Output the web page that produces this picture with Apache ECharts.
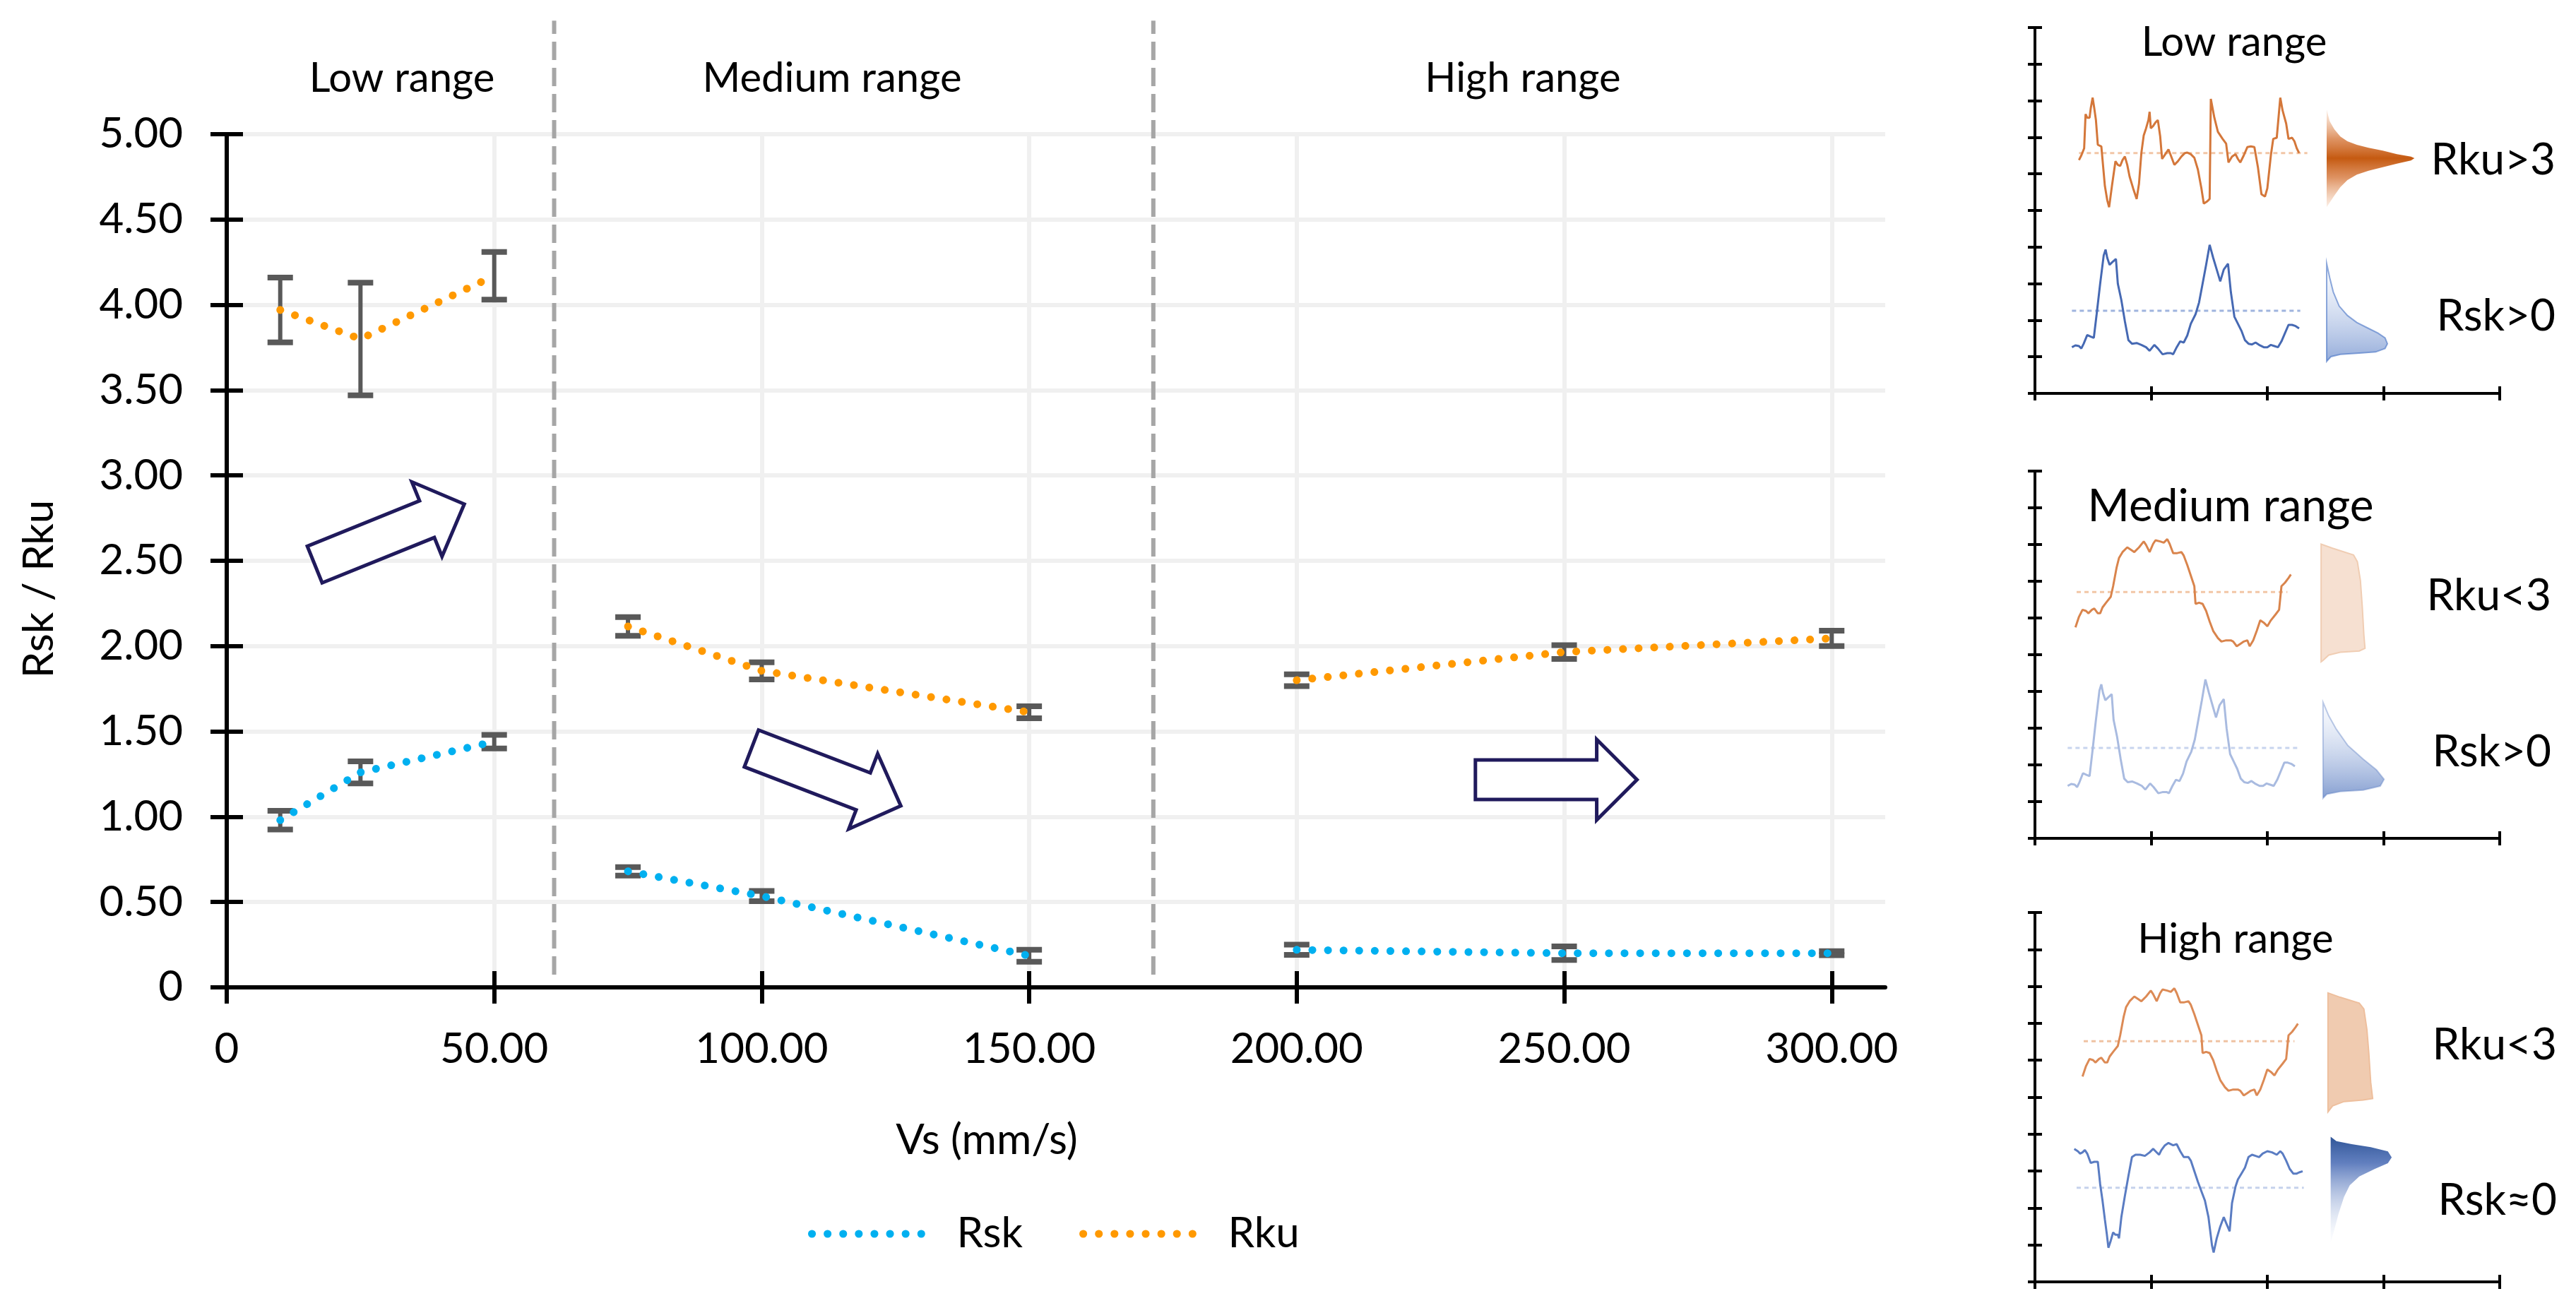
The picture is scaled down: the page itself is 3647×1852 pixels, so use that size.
<!DOCTYPE html>
<html><head><meta charset="utf-8">
<script src="https://cdn.jsdelivr.net/npm/echarts@6/dist/echarts.min.js"></script>
<style>html,body{margin:0;padding:0;background:#fff}#c{width:3647px;height:1852px}</style>
</head><body><div id="c"></div>
<script>
const FONT = 'Lato';
// ---------------- main chart data ----------------
const categories = ['Low range', 'Medium range', 'High range'];
const vs = [10, 25, 50, 75, 100, 150, 200, 250, 300];
const rangeOf = [0, 0, 0, 1, 1, 1, 2, 2, 2];
const rsk = [0.98, 1.26, 1.44, 0.68, 0.535, 0.185, 0.22, 0.20, 0.20];
const rskErr = [0.055, 0.065, 0.04, 0.025, 0.03, 0.035, 0.03, 0.04, 0.012];
const rku = [3.97, 3.80, 4.17, 2.115, 1.855, 1.612, 1.80, 1.965, 2.045];
const rkuErr = [0.19, 0.33, 0.14, 0.055, 0.05, 0.035, 0.035, 0.04, 0.045];
const xTicks = [0, 50, 100, 150, 200, 250, 300];
const rangeBounds = [61.2, 173.2];
const trendArrows = [[16.45, 2.478, 44.4, 2.832], [98.08, 1.40, 126.0, 1.064], [233.4, 1.217, 263.6, 1.217]];

// ---------------- inset sketches (read in sample units of each sketch) ----------------
const lowRkuProfile = [[40,320],[50,300],[62,270],[68,125],[75,140],[85,140],[90,100],[98,55],[105,100],[112,150],[120,255],[135,262],[150,430],[160,490],[168,520],[180,430],[195,325],[205,340],[215,345],[225,320],[235,305],[245,340],[255,390],[270,440],[285,485],[295,420],[305,290],[315,215],[325,185],[335,150],[340,115],[345,185],[355,175],[365,160],[375,150],[385,220],[393,315],[400,305],[410,290],[420,275],[430,300],[445,340],[460,325],[475,305],[490,290],[500,288],[515,295],[530,310],[545,360],[560,440],[570,505],[585,495],[595,485],[600,60],[615,140],[630,200],[650,230],[665,250],[675,330],[690,305],[705,295],[715,315],[725,330],[740,300],[755,265],[770,262],[785,265],[800,350],[815,465],[830,475],[840,440],[855,300],[865,230],[880,225],[895,55],[905,110],[920,165],[930,230],[945,225],[955,240],[965,270],[975,290]];
const peakRskProfile = [[25,470],[40,462],[55,465],[65,475],[75,455],[90,418],[105,425],[118,430],[130,330],[145,200],[160,80],[168,55],[175,90],[185,120],[195,110],[212,95],[220,200],[235,270],[250,360],[265,440],[280,455],[300,452],[320,460],[340,470],[355,485],[375,460],[390,475],[410,500],[430,495],[445,495],[455,500],[470,470],[485,445],[500,450],[515,420],[530,370],[550,330],[565,280],[580,200],[595,120],[610,35],[625,90],[640,140],[655,190],[670,140],[688,115],[700,235],[715,340],[730,370],[745,400],[760,440],[775,455],[790,458],[805,450],[820,460],[840,470],[855,470],[870,460],[885,465],[900,470],[915,445],[930,410],[945,375],[960,375],[975,380],[990,390]];
const plateauRkuProfile = [[40,415],[55,370],[70,340],[85,345],[95,355],[110,340],[120,335],[135,355],[145,355],[155,330],[170,310],[190,285],[200,240],[215,160],[225,120],[240,95],[260,75],[275,85],[290,95],[310,75],[330,50],[340,65],[355,95],[370,60],[380,45],[400,50],[415,55],[430,40],[440,60],[455,100],[470,100],[490,95],[500,110],[515,150],[530,195],[545,240],[550,315],[565,310],[580,315],[595,345],[610,390],[625,430],[645,460],[660,475],[680,470],[700,470],[710,475],[725,495],[740,485],[755,475],[770,470],[780,495],[795,470],[810,430],[825,385],[840,395],[855,410],[870,385],[890,360],[905,340],[915,240],[930,225],[945,205],[955,190]];
const valleyRskProfile = [[20,80],[35,90],[45,100],[55,95],[65,85],[75,100],[90,140],[105,135],[120,135],[130,230],[140,300],[150,380],[158,440],[165,500],[175,470],[185,435],[195,445],[205,445],[210,460],[220,370],[235,280],[250,195],[265,115],[280,105],[300,105],[320,110],[340,95],[355,80],[365,90],[380,105],[390,85],[405,65],[420,55],[440,65],[455,60],[470,90],[485,115],[505,115],[515,130],[530,175],[545,220],[560,260],[575,300],[590,370],[605,490],[612,520],[625,460],[640,410],[655,370],[665,395],[680,430],[690,310],[705,240],[715,210],[730,185],[745,160],[760,115],[775,105],[790,110],[805,115],[820,100],[840,90],[860,95],[880,105],[895,90],[905,100],[920,130],[935,165],[950,185],[965,185],[975,180],[990,175]];
const lowRkuMean = [[40,290],[1010,290]];
const lowRskMean = [[25,315],[995,315]];
const medRkuMean = [[45,265],[940,265]];
const medRskMean = [[25,315],[1000,315]];
const highRkuMean = [[45,265],[940,265]];
const highRskMean = [[30,245],[995,245]];
const lowRkuDist = [[42,45],[55,95],[75,130],[100,160],[130,180],[170,195],[220,208],[280,220],[340,235],[400,245],[415,252],[400,262],[340,275],[280,290],[220,305],[170,322],[130,345],[100,375],[75,410],[55,440],[42,460]];
const lowRskDist = [[42,700],[55,760],[70,820],[95,880],[130,920],[170,950],[220,975],[260,995],[290,1015],[300,1040],[290,1060],[250,1075],[180,1080],[100,1085],[60,1095],[42,1115]];
const medRkuDist = [[900,315],[930,330],[985,355],[995,380],[1003,450],[1008,550],[1012,650],[1015,700],[1000,710],[950,715],[920,725],[905,745],[900,750]];
const medRskDist = [[905,900],[920,950],[940,1000],[970,1060],[1010,1110],[1045,1150],[1065,1185],[1055,1210],[1010,1225],[950,1230],[915,1240],[905,1255]];
const highRkuDist = [[918,495],[950,510],[1000,530],[1012,550],[1020,620],[1025,700],[1030,800],[1035,855],[1010,860],[960,865],[930,880],[918,900]];
const highRskDist = [[925,985],[940,1000],[980,1010],[1030,1020],[1075,1035],[1085,1055],[1075,1075],[1040,1095],[1000,1120],[975,1150],[960,1190],[945,1250],[935,1300],[925,1345]];

// ---------------- build ----------------
const chart = echarts.init(document.getElementById('c'), null, {renderer: 'canvas'});
const grids = [], xAxes = [], yAxes = [], series = [];
function addGrid(rect) { grids.push(Object.assign({containLabel: false, outerBoundsMode: 'none'}, rect)); return grids.length - 1; }
const fmt = v => v === 0 ? '0' : v.toFixed(2);
const blk = {color: '#000', width: 6};

// main grid
const g0 = addGrid({left: 321, top: 190, width: 2348, height: 1208});
xAxes.push({type: 'value', gridIndex: g0, min: 0, max: 310, interval: 50, position: 'bottom',
  axisLine: {show: true, onZero: false, lineStyle: blk},
  axisTick: {show: true, length: 23, lineStyle: blk, customValues: xTicks},
  axisLabel: {show: true, fontSize: 60, fontFamily: FONT, color: '#000', margin: 58, formatter: fmt, customValues: xTicks},
  splitLine: {show: true, showMinLine: false, showMaxLine: true, lineStyle: {color: '#f0f0f0', width: 6}}});
xAxes.push({type: 'value', gridIndex: g0, min: 0, max: 310, interval: 50, position: 'bottom',
  axisLine: {show: false}, axisTick: {show: true, inside: true, length: 23, lineStyle: blk, customValues: xTicks},
  axisLabel: {show: false}, splitLine: {show: false}});
yAxes.push({type: 'value', gridIndex: g0, min: 0, max: 5, interval: 0.5, position: 'left',
  axisLine: {show: true, onZero: false, lineStyle: blk},
  axisTick: {show: true, length: 23, lineStyle: blk},
  axisLabel: {show: true, fontSize: 60, fontFamily: FONT, color: '#000', margin: 62, formatter: fmt},
  splitLine: {show: true, lineStyle: {color: '#f0f0f0', width: 6}}});
yAxes.push({type: 'value', gridIndex: g0, min: 0, max: 5, interval: 0.5, position: 'left',
  axisLine: {show: false}, axisTick: {show: true, inside: true, length: 23, lineStyle: blk},
  axisLabel: {show: false}, splitLine: {show: false}});

function renderErr(params, api) {
  const x = api.value(0), v = api.value(1), e = api.value(2);
  const t = api.coord([x, v + e]), b = api.coord([x, v - e]);
  const hw = 18, c = '#595959';
  return {type: 'group', children: [
    {type: 'line', shape: {x1: t[0], y1: t[1], x2: b[0], y2: b[1]}, style: {stroke: c, lineWidth: 6}},
    {type: 'line', shape: {x1: t[0] - hw, y1: t[1], x2: t[0] + hw, y2: t[1]}, style: {stroke: c, lineWidth: 8}},
    {type: 'line', shape: {x1: b[0] - hw, y1: b[1], x2: b[0] + hw, y2: b[1]}, style: {stroke: c, lineWidth: 8}}
  ]};
}
[['Rsk', rsk, rskErr, '#00b0f0'], ['Rku', rku, rkuErr, '#ff9900']].forEach(([name, vals, errs, color]) => {
  series.push({type: 'custom', name: name + ' error', xAxisIndex: 0, yAxisIndex: 0, z: 3, silent: true,
    encode: {x: 0, y: 1}, data: vs.map((x, i) => [x, vals[i], errs[i]]), renderItem: renderErr});
  categories.forEach((c, r) => {
    const d = vs.map((x, i) => [x, vals[i]]).filter((_, i) => rangeOf[i] === r);
    series.push({type: 'line', name, xAxisIndex: 0, yAxisIndex: 0, data: d, symbol: 'none', z: 4, silent: true,
      lineStyle: {color, width: 11, type: [0.1, 22], cap: 'round'}, itemStyle: {color}});
  });
});
// range separators
series.push({type: 'custom', xAxisIndex: 0, yAxisIndex: 0, z: 2, silent: true, clip: false,
  data: rangeBounds.map(v => [v, 0]),
  renderItem: (params, api) => {
    const b = api.coord([api.value(0), 0.075]), t = api.coord([api.value(0), 5.665]);
    return {type: 'line', shape: {x1: b[0], y1: b[1], x2: t[0], y2: t[1]}, style: {stroke: '#a6a6a6', lineWidth: 6, lineDash: [26, 11]}};
  }});
// trend arrows
series.push({type: 'custom', xAxisIndex: 0, yAxisIndex: 0, z: 5, silent: true, clip: false,
  data: trendArrows,
  renderItem: (params, api) => {
    const t = api.coord([api.value(0), api.value(1)]), p = api.coord([api.value(2), api.value(3)]);
    const dx = p[0] - t[0], dy = p[1] - t[1], L = Math.hypot(dx, dy);
    const ux = dx / L, uy = dy / L, nx = -uy, ny = ux;
    const sw = 28, hw = 57, hl = 57;
    const bx = p[0] - ux * hl, by = p[1] - uy * hl;
    const pts = [[t[0] + nx * sw, t[1] + ny * sw], [bx + nx * sw, by + ny * sw], [bx + nx * hw, by + ny * hw], [p[0], p[1]],
      [bx - nx * hw, by - ny * hw], [bx - nx * sw, by - ny * sw], [t[0] - nx * sw, t[1] - ny * sw]];
    return {type: 'polygon', shape: {points: pts}, style: {fill: '#fff', stroke: '#201a5c', lineWidth: 5, lineJoin: 'miter'}};
  }});

// inset panels with axes
function panel(rect) {
  const g = addGrid(rect);
  const ax = {color: '#000', width: 4};
  [[xAxes, 4, 'bottom'], [yAxes, 10, 'left']].forEach(([arr, max, pos]) => {
    arr.push({type: 'value', gridIndex: g, min: 0, max, interval: 1, position: pos,
      axisLine: {show: true, onZero: false, lineStyle: ax}, axisTick: {show: true, length: 10, lineStyle: ax},
      axisLabel: {show: false}, splitLine: {show: false}});
    arr.push({type: 'value', gridIndex: g, min: 0, max, interval: 1, position: pos,
      axisLine: {show: false}, axisTick: {show: true, inside: true, length: 10, lineStyle: ax},
      axisLabel: {show: false}, splitLine: {show: false}});
  });
}
panel({left: 2881, top: 39, width: 658, height: 518});
panel({left: 2881, top: 667, width: 658, height: 520});
panel({left: 2881, top: 1292, width: 658, height: 523});

function sketch(rect, w, h) {
  const g = addGrid(rect);
  xAxes.push({type: 'value', gridIndex: g, min: 0, max: w, show: false});
  yAxes.push({type: 'value', gridIndex: g, min: 0, max: h, inverse: true, show: false});
  return [xAxes.length - 1, yAxes.length - 1];
}
function profile(axes, data, mean, color, meanColor) {
  series.push({type: 'line', xAxisIndex: axes[0], yAxisIndex: axes[1], data: mean, symbol: 'none', silent: true, z: 2,
    lineStyle: {color: meanColor, width: 3, type: [6, 5]}});
  series.push({type: 'line', xAxisIndex: axes[0], yAxisIndex: axes[1], data, symbol: 'none', silent: true, z: 3,
    lineStyle: {color, width: 3}});
}
function dist(axes, pts, fill, stroke) {
  series.push({type: 'custom', xAxisIndex: axes[0], yAxisIndex: axes[1], data: [[0, 0]], silent: true, z: 2,
    renderItem: (params, api) => ({type: 'polygon', shape: {points: pts.map(p => api.coord(p))},
      style: {fill, stroke: stroke || null, lineWidth: 2}})});
}
const LG = (stops) => new echarts.graphic.LinearGradient(0, 0, 0, 1, stops.map(([o, c]) => ({offset: o, color: c})));

profile(sketch({left: 2930, top: 120, width: 340, height: 190}, 1020, 570), lowRkuProfile, lowRkuMean, '#d4773a', '#f2c6a6');
profile(sketch({left: 2925, top: 335, width: 340, height: 180}, 1020, 540), peakRskProfile, lowRskMean, '#4669b3', '#9fb4de');
profile(sketch({left: 2925, top: 750, width: 340, height: 180}, 1020, 540), plateauRkuProfile, medRkuMean, '#d9844c', '#f2c6a6');
profile(sketch({left: 2919, top: 950, width: 340, height: 187}, 1020, 540), peakRskProfile, medRskMean, '#a9bbe0', '#c8d4ee');
profile(sketch({left: 2935, top: 1386, width: 340, height: 180}, 1020, 540), plateauRkuProfile, highRkuMean, '#dc8a55', '#efc2a3');
profile(sketch({left: 2930, top: 1600, width: 340, height: 180}, 1020, 540), valleyRskProfile, highRskMean, '#5a7cc2', '#c5d2ec');

const dLow = sketch({left: 3280, top: 140, width: 160, height: 380}, 480, 1140);
const dMed = sketch({left: 2800, top: 650, width: 847, height: 600}, 1568, 1568);
const dHigh = sketch({left: 2800, top: 1200, width: 847, height: 652}, 1568, 1568);
dist(dLow, lowRkuDist, LG([[0, 'rgba(236,170,125,0.2)'], [0.3, 'rgba(214,120,60,0.8)'], [0.5, '#c55a11'], [0.7, 'rgba(214,120,60,0.8)'], [1, 'rgba(236,170,125,0.2)']]));
dist(dLow, lowRskDist, LG([[0, 'rgba(200,214,240,0.1)'], [1, 'rgba(120,150,208,0.8)']]), 'rgba(68,114,196,0.6)');
dist(dMed, medRkuDist, '#f6e0d1', '#f0cdb3');
dist(dMed, medRskDist, LG([[0, 'rgba(200,214,240,0.1)'], [1, 'rgba(110,140,200,0.85)']]), 'rgba(90,124,194,0.4)');
dist(dHigh, highRkuDist, '#f0cbb0', '#eebf9d');
dist(dHigh, highRskDist, LG([[0, '#2f5597'], [0.25, 'rgba(70,105,180,0.85)'], [1, 'rgba(210,222,242,0.05)']]));

// ---------------- texts ----------------
function txt(text, x, y, size, align, rot) {
  return {type: 'text', x, y, rotation: rot || 0, silent: true, z: 10,
    style: {text, fontSize: size, fontFamily: FONT, fill: '#000', align: align || 'center', verticalAlign: 'middle'}};
}
const graphic = [
  txt(categories[0], 569, 111, 58), txt(categories[1], 1178, 111, 58), txt(categories[2], 2156, 111, 58),
  txt('Rsk / Rku', 56, 834, 60, 'center', Math.PI / 2),
  txt('Vs (mm/s)', 1397, 1615, 60),
  txt('Low range', 3163, 60, 58), txt('Rku>3', 3618, 227, 62, 'right'), txt('Rsk>0', 3618, 448, 62, 'right'),
  txt('Medium range', 3158, 717, 64), txt('Rku<3', 3612, 844, 62, 'right'), txt('Rsk>0', 3612, 1065, 62, 'right'),
  txt('High range', 3165, 1330, 58), txt('Rku<3', 3620, 1480, 62, 'right'), txt('Rsk\u22480', 3620, 1700, 62, 'right')
];

chart.setOption({
  animation: false,
  backgroundColor: '#fff',
  textStyle: {fontFamily: FONT},
  grid: grids, xAxis: xAxes, yAxis: yAxes, series, graphic,
  legend: {data: ['Rsk', 'Rku'], left: 1144, top: 1712, padding: 0, itemWidth: 174, itemHeight: 14, itemGap: 80,
    selectedMode: false,
    itemStyle: {opacity: 0},
    lineStyle: {width: 11},
    textStyle: {fontSize: 60, fontFamily: FONT, color: '#000', padding: [0, 0, 0, 26], lineHeight: 70}}
});
</script></body></html>
